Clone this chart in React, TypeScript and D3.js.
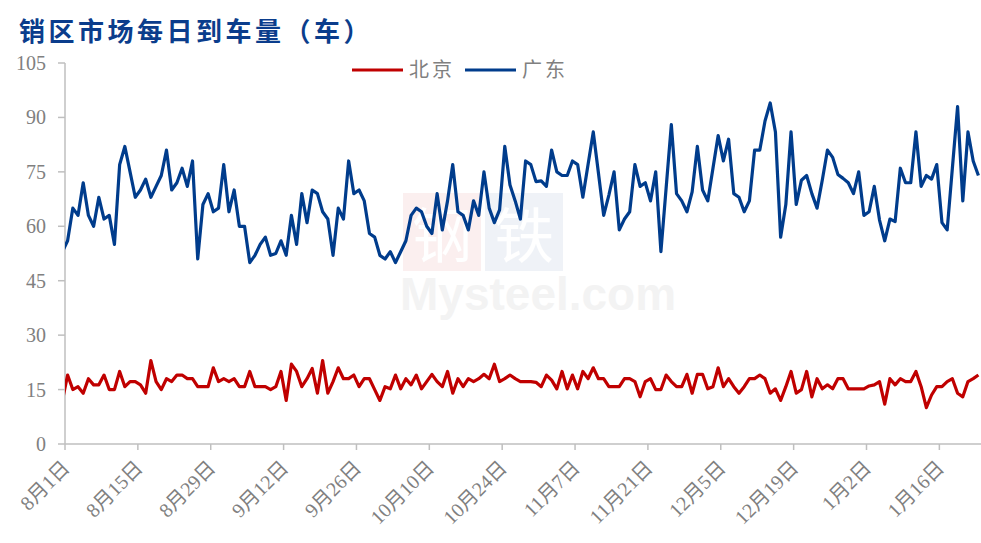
import React, { useEffect, useRef } from 'react';
import * as d3 from 'd3';

// daily arrivals, 8月1日 .. 1月23日 (176 days); the first entry is 7月31日, clipped at the axis
const beijing = [
  12,
  19, 15, 15.8, 14, 18, 16.3, 16.3, 19, 15, 15, 20, 15.8, 17.2, 17.2, 16.3, 14, 23, 17.2, 15, 18,
  17.2, 19, 19, 18, 18, 15.8, 15.8, 15.8, 21, 17.2, 18, 17.2, 18, 15.8, 15.8, 20, 15.8, 15.8, 15.8, 15,
  15.8, 20, 12, 22, 20, 15.8, 18, 20.8, 14, 23, 14, 17.2, 21, 18, 18, 19, 15.8, 18, 18, 15,
  12, 15.8, 15.2, 19, 15.2, 18, 16.3, 19, 15.2, 17.2, 19.2, 17.2, 15.8, 20, 14, 18, 15.8, 18, 17.2, 18,
  19.2, 18, 22, 17.2, 18, 19, 18, 17.2, 17.2, 17.2, 17, 15.8, 19, 17.6, 15.2, 20, 15.2, 19, 15.2, 20,
  18, 21, 18, 18, 15.8, 15.8, 15.8, 18, 18, 17.2, 13, 17.2, 18, 15, 15, 19, 17.2, 15.8, 15.8, 19.2,
  14, 19.2, 19.2, 15.2, 15.8, 21, 15.8, 18, 15.8, 14, 15.8, 18, 18, 19, 18, 14, 15.2, 12, 15.8, 20,
  14, 15, 20, 13, 18, 15.2, 16.3, 15.2, 18, 18, 15.2, 15.2, 15.2, 15.2, 16, 16.3, 17.2, 11, 18, 16.3,
  18, 17.2, 17.2, 20, 15.8, 10, 13.5, 15.8, 15.8, 17.2, 18, 14, 13, 17.2, 18, 19,
];

const guangdong = [
  53,
  56, 65, 63, 72, 63, 60, 68, 62, 63, 55, 77, 82, 75, 68, 70, 73, 68, 71, 74, 81,
  70, 72, 76, 71, 78, 51, 66, 69, 64, 65, 77, 64, 70, 60, 60, 50, 52, 55, 57, 52,
  52.5, 56, 52, 63, 55, 69, 61, 70, 69, 64, 62, 52, 65, 62, 78, 69, 70, 67, 58, 57,
  52, 51, 53, 50, 53, 56, 63, 65, 64, 60, 58, 69, 59, 67, 77, 64, 63, 59, 67, 63,
  75, 65, 61, 64.5, 82, 71.4, 67, 62, 78, 77, 72.3, 72.5, 71, 81, 75, 74, 74, 78, 77, 68,
  77, 86, 74.6, 63, 68.6, 75, 59, 62, 64, 77, 71, 72, 67, 75, 53, 70.5, 88, 69, 67, 64,
  69.5, 82, 70, 67, 76, 85, 78, 84, 69, 68, 64, 67, 81, 81, 89, 94, 86, 57, 66, 86,
  66, 72.7, 74, 69, 65, 72.7, 81, 79, 74.3, 73.2, 72, 69, 75, 63, 64, 71, 61.7, 56, 62, 61.3,
  76, 72, 72, 86, 71, 74, 73, 77, 61, 59, 76, 93, 67, 86, 78, 74,
];

const dayCount = 176;
const tickLabels = ['8月1日', '8月15日', '8月29日', '9月12日', '9月26日', '10月10日', '10月24日',
  '11月7日', '11月21日', '12月5日', '12月19日', '1月2日', '1月16日'];
const yTicks = [0, 15, 30, 45, 60, 75, 90, 105];
const seriesNames = ['北京', '广东'];
const seriesColors = ['#C00000', '#003C8C'];

const width = 981;
const height = 543;
const marginLeft = 65;
const marginRight = 0;
const marginTop = 63;
const marginBottom = 99;

export default function App() {
  const ref = useRef<SVGSVGElement>(null);

  useEffect(() => {
    const svg = d3.select(ref.current);
    svg.selectAll('*').remove();

    const x = d3.scaleLinear().domain([0, dayCount]).range([marginLeft, width - marginRight]);
    const y = d3.scaleLinear().domain([0, 105]).range([height - marginBottom, marginTop]);
    const axisColor = '#BFBFBF';
    const labelColor = '#808080';
    const serif = '"Liberation Serif", "Times New Roman", "Noto Sans CJK SC", serif';

    // title
    svg.append('text')
      .attr('x', 19).attr('y', 41)
      .attr('fill', '#0B3D8C')
      .attr('font-family', '"Noto Sans CJK SC", sans-serif')
      .attr('font-weight', 'bold')
      .attr('font-size', 26)
      .attr('letter-spacing', 3.5)
      .text('销区市场每日到车量（车）');

    // watermark
    const wm = svg.append('g').attr('opacity', 0.06);
    wm.append('rect').attr('x', 403).attr('y', 193).attr('width', 78).attr('height', 78).attr('fill', '#C00000');
    wm.append('rect').attr('x', 485).attr('y', 193).attr('width', 78).attr('height', 78).attr('fill', '#003C8C');
    wm.append('text').attr('x', 442).attr('y', 258).attr('text-anchor', 'middle')
      .attr('font-family', '"Noto Sans CJK SC", sans-serif').attr('font-size', 60).attr('fill', '#fff').text('钢');
    wm.append('text').attr('x', 524).attr('y', 258).attr('text-anchor', 'middle')
      .attr('font-family', '"Noto Sans CJK SC", sans-serif').attr('font-size', 60).attr('fill', '#fff').text('铁');
    svg.append('text')
      .attr('x', 400).attr('y', 310)
      .attr('font-family', 'Arial, "Liberation Sans", sans-serif')
      .attr('font-weight', 'bold').attr('font-size', 46)
      .attr('fill', '#F3F3F3')
      .text('Mysteel.com');

    // y axis
    const yAxis = svg.append('g').attr('transform', `translate(${marginLeft},0)`);
    yAxis.append('line')
      .attr('y1', y(0)).attr('y2', y(105))
      .attr('stroke', axisColor).attr('stroke-width', 1.5);
    yTicks.forEach(t => {
      yAxis.append('line').attr('x1', -7).attr('x2', 0).attr('y1', y(t)).attr('y2', y(t))
        .attr('stroke', axisColor).attr('stroke-width', 1.5);
      yAxis.append('text')
        .attr('x', -19).attr('y', y(t)).attr('dy', '0.35em')
        .attr('text-anchor', 'end')
        .attr('fill', labelColor)
        .attr('font-family', serif).attr('font-size', 20)
        .text(t);
    });

    // x axis
    const xAxis = svg.append('g').attr('transform', `translate(0,${y(0)})`);
    xAxis.append('line')
      .attr('x1', x(0)).attr('x2', width)
      .attr('stroke', axisColor).attr('stroke-width', 1.5);
    tickLabels.forEach((label, k) => {
      const tx = x(k * 14);
      xAxis.append('line').attr('x1', tx).attr('x2', tx).attr('y1', 0).attr('y2', 6)
        .attr('stroke', axisColor).attr('stroke-width', 1.5);
      xAxis.append('text')
        .attr('transform', `translate(${tx + 6},${25}) rotate(-45)`)
        .attr('text-anchor', 'end')
        .attr('fill', labelColor)
        .attr('font-family', serif).attr('font-size', 20)
        .text(label);
    });

    // lines
    svg.append('clipPath').attr('id', 'plot-clip')
      .append('rect')
      .attr('x', marginLeft).attr('y', 0)
      .attr('width', width - marginLeft).attr('height', height);

    const line = d3.line<number>()
      .x((_, i) => x(i - 1 + 0.5))
      .y(d => y(d));

    [beijing, guangdong].forEach((data, s) => {
      svg.append('path')
        .datum(data)
        .attr('clip-path', 'url(#plot-clip)')
        .attr('fill', 'none')
        .attr('stroke', seriesColors[s])
        .attr('stroke-width', 3.2)
        .attr('stroke-linejoin', 'round')
        .attr('d', line);
    });

    // legend
    const legend = svg.append('g').attr('transform', 'translate(352,70)');
    seriesNames.forEach((name, s) => {
      const g = legend.append('g').attr('transform', `translate(${s * 113},0)`);
      g.append('line').attr('x1', 0).attr('x2', 51).attr('y1', 0).attr('y2', 0)
        .attr('stroke', seriesColors[s]).attr('stroke-width', 3.2);
      g.append('text')
        .attr('x', 57).attr('y', 0).attr('dy', '0.35em')
        .attr('fill', labelColor)
        .attr('font-family', '"Noto Sans CJK SC", sans-serif')
        .attr('font-size', 20)
        .attr('letter-spacing', 3)
        .text(name);
    });
  }, []);

  return (
    <svg
      ref={ref}
      width={width}
      height={height}
      style={{ position: 'absolute', left: 0, top: 0, background: '#fff' }}
    />
  );
}
